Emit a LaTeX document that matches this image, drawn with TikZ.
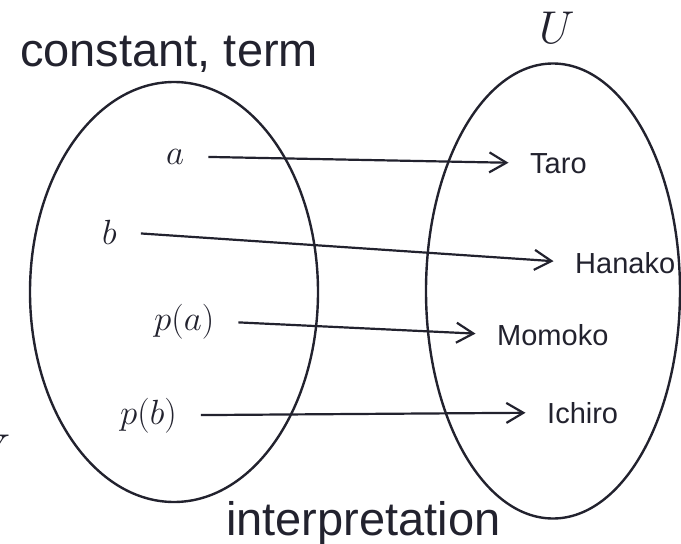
\RequirePackage{fix-cm}
\documentclass[tikz,border=0pt]{standalone}
\usepackage{fontspec}
\setmainfont{Liberation Sans}
\definecolor{setink}{RGB}{34,34,46}
\usetikzlibrary{arrows.meta,shapes.geometric}

\tikzset{
  setshape/.style={ellipse, draw, line width=2.4pt, inner sep=0pt},
  bigtext/.style={font=\fontsize{47}{52}\selectfont, inner sep=0pt, anchor=base west},
  person/.style={font=\fontsize{29}{32}\selectfont, inner sep=0pt, anchor=base west},
  term/.style={font=\fontsize{35}{38}\selectfont, inner sep=0pt, anchor=base west},
  setname/.style={font=\fontsize{46}{50}\selectfont, inner sep=0pt, anchor=base west},
  maparrow/.style={-{Straight Barb[length=17pt,width=20pt]}, line width=2.2pt,
    shorten <=24pt, shorten >=21.5pt}
}

\begin{document}
\begin{tikzpicture}[x=1pt, y=-1pt, color=setink]
  \useasboundingbox (0,0) rectangle (681,544);

  % the two sets
  \node[setshape, minimum width=288pt, minimum height=420pt] (terms) at (174,292) {};
  \node[setshape, minimum width=254pt, minimum height=455pt] (domain) at (553,291) {};

  \node[bigtext] (title) at (20,66) {constant, term};
  \node[bigtext] (interp) at (226,535) {interpretation};
  \node[setname] (uset) at (539,43) {$U$};
  \node[setname] (vset) at (-26,466) {$V$};

  % terms
  \node[term] (a)  at (166,164) {$a$};
  \node[term] (b)  at (102,244) {$b$};
  \node[term] (pa) at (154,330) {$p(a)$};
  \node[term] (pb) at (120,424) {$p(b)$};

  % individuals
  \node[person] (taro)   at (530,173) {Taro};
  \node[person] (hanako) at (575,273) {Hanako};
  \node[person] (momoko) at (497,345) {Momoko};
  \node[person] (ichiro) at (547,423) {Ichiro};

  \draw[maparrow] (a.east)  -- (taro.west);
  \draw[maparrow] (b.east)  -- (hanako.west);
  \draw[maparrow] (pa.east) -- (momoko.west);
  \draw[maparrow] (pb.east) -- (ichiro.west);
\end{tikzpicture}
\end{document}
